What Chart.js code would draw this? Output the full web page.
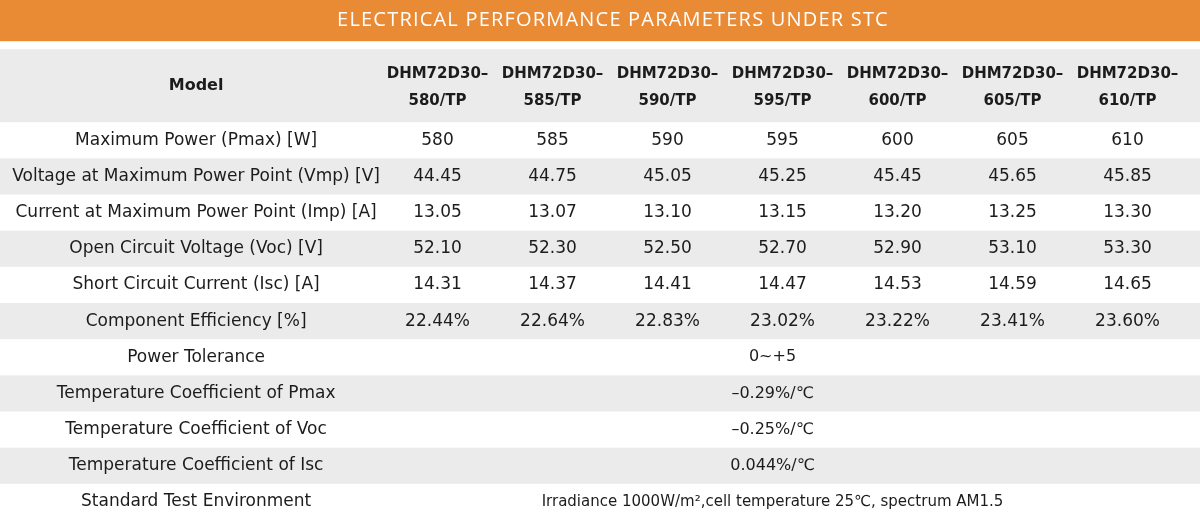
<!DOCTYPE html>
<html>
<head>
<meta charset="utf-8">
<script src="https://cdn.jsdelivr.net/npm/chart.js@4.4.1/dist/chart.umd.min.js"></script>
<style>
  html, body { margin: 0; padding: 0; background: #fff; }
  #wrap { width: 1200px; height: 520px; }
</style>
</head>
<body>
<div id="wrap"><canvas id="chart"></canvas></div>
<script>
const TITLE = 'ELECTRICAL PERFORMANCE PARAMETERS UNDER STC';
const HEADER_LABEL = 'Model';

const models = [
  'DHM72D30–580/TP', 'DHM72D30–585/TP', 'DHM72D30–590/TP', 'DHM72D30–595/TP',
  'DHM72D30–600/TP', 'DHM72D30–605/TP', 'DHM72D30–610/TP'
];

const rowLabels = [
  'Maximum Power (Pmax) [W]',
  'Voltage at Maximum Power Point (Vmp) [V]',
  'Current at Maximum Power Point (Imp) [A]',
  'Open Circuit Voltage (Voc) [V]',
  'Short Circuit Current (Isc) [A]',
  'Component Efficiency [%]',
  'Power Tolerance',
  'Temperature Coefficient of Pmax',
  'Temperature Coefficient of Voc',
  'Temperature Coefficient of Isc',
  'Standard Test Environment'
];

// per-model values
const maxPower = [580, 585, 590, 595, 600, 605, 610];
const vmp = [44.45, 44.75, 45.05, 45.25, 45.45, 45.65, 45.85];
const imp = [13.05, 13.07, 13.10, 13.15, 13.20, 13.25, 13.30];
const voc = [52.10, 52.30, 52.50, 52.70, 52.90, 53.10, 53.30];
const isc = [14.31, 14.37, 14.41, 14.47, 14.53, 14.59, 14.65];
const efficiency = [22.44, 22.64, 22.83, 23.02, 23.22, 23.41, 23.60];

// values shared by every model (last rows)
const sharedValues = [
  '0~+5',
  '–0.29%/℃',
  '–0.25%/℃',
  '0.044%/℃',
  'Irradiance 1000W/m²,cell temperature 25℃, spectrum AM1.5'
];

const ORANGE = '#e98a35';
const STRIPE = '#ebebeb';
const TEXT = '#1c1c1c';
const TITLE_GAP = 8;
const FONT = 'DejaVu Sans';

const modelRows = [
  { values: maxPower, fmt: v => String(v) },
  { values: vmp, fmt: v => v.toFixed(2) },
  { values: imp, fmt: v => v.toFixed(2) },
  { values: voc, fmt: v => v.toFixed(2) },
  { values: isc, fmt: v => v.toFixed(2) },
  { values: efficiency, fmt: v => v.toFixed(2) + '%' }
];

const tablePlugin = {
  id: 'specTable',
  beforeDraw(chart) {
    const { ctx, scales: { x, y }, titleBlock } = chart;
    ctx.save();
    ctx.fillStyle = ORANGE;
    ctx.fillRect(0, titleBlock.top, chart.width, titleBlock.height - TITLE_GAP);
    ctx.fillStyle = STRIPE;
    ctx.fillRect(0, x.top, chart.width, x.height);
    const step = Math.abs(y.getPixelForValue(1) - y.getPixelForValue(0));
    rowLabels.forEach((_, i) => {
      if (i % 2 === 1) {
        ctx.fillRect(0, y.getPixelForValue(i) - step / 2, chart.width, step);
      }
    });
    ctx.restore();
  },
  afterDraw(chart) {
    const { ctx, scales: { x, y }, titleBlock } = chart;
    ctx.save();
    ctx.textAlign = 'center';
    ctx.textBaseline = 'middle';

    // title text (the title plugin only reserves the space)
    ctx.fillStyle = '#ffffff';
    ctx.font = '20px "Open Sans"';
    ctx.letterSpacing = '1.2px';
    ctx.fillText(TITLE, chart.width / 2 + 13, titleBlock.top + (titleBlock.height - TITLE_GAP) / 2);
    ctx.letterSpacing = '0px';

    // "Model" header, centred like the row labels
    ctx.fillStyle = TEXT;
    ctx.font = '17px "' + FONT + '"';
    const widest = Math.max(...rowLabels.map(l => ctx.measureText(l).width));
    ctx.font = 'bold 16px "' + FONT + '"';
    ctx.fillText(HEADER_LABEL, y.right - widest / 2, (x.top + x.bottom) / 2);

    ctx.font = '17px "' + FONT + '"';
    modelRows.forEach((row, i) => {
      row.values.forEach((v, j) => {
        ctx.fillText(row.fmt(v), x.getPixelForValue(j), y.getPixelForValue(i));
      });
    });
    sharedValues.forEach((v, k) => {
      ctx.font = (k === sharedValues.length - 1 ? '15px "' : '16px "') + FONT + '"';
      ctx.fillText(v, (x.left + x.right) / 2 - 10, y.getPixelForValue(modelRows.length + k));
    });
    ctx.restore();
  }
};

Chart.defaults.font.family = FONT;
Chart.defaults.color = TEXT;

new Chart(document.getElementById('chart'), {
  type: 'bar',
  data: { labels: models, datasets: [] },
  options: {
    responsive: true,
    maintainAspectRatio: false,
    animation: false,
    layout: { padding: { right: 15 } },
    plugins: {
      legend: { display: false },
      tooltip: { enabled: false },
      title: {
        display: true,
        text: TITLE,
        color: 'rgba(0,0,0,0)',
        font: { family: 'Open Sans', size: 21, lineHeight: 1.2 },
        padding: { top: 8, bottom: 16 }
      }
    },
    scales: {
      x: {
        type: 'category',
        position: 'top',
        offset: true,
        grid: { display: false, drawTicks: false },
        border: { display: false },
        ticks: {
          autoSkip: false,
          maxRotation: 0,
          padding: 8,
          color: TEXT,
          font: { size: 15, weight: 'bold', lineHeight: 1.8 },
          callback: (value, i) => {
            const cut = models[i].indexOf('–') + 1;
            return [models[i].slice(0, cut), models[i].slice(cut)];
          }
        },
        afterFit: scale => {
          scale.height = 73;
          scale.paddingLeft = 0;
          scale.paddingRight = 0;
        }
      },
      y: {
        type: 'category',
        labels: rowLabels,
        offset: true,
        grid: { display: false, drawTicks: false },
        border: { display: false },
        ticks: {
          autoSkip: false,
          crossAlign: 'center',
          padding: 0,
          color: TEXT,
          font: { size: 17 }
        },
        afterFit: scale => {
          scale.width = 380;
          scale.paddingTop = 0;
          scale.paddingBottom = 0;
        }
      }
    }
  },
  plugins: [tablePlugin]
});
</script>
</body>
</html>
